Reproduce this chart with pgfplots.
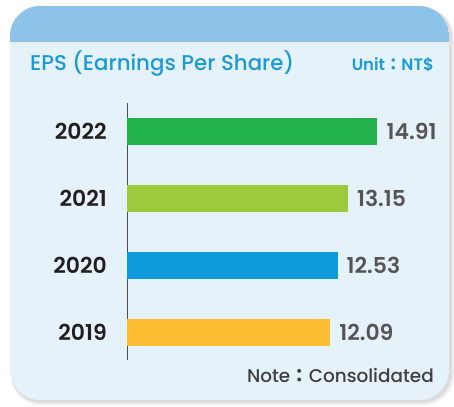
\documentclass[border=0pt]{standalone}
\usepackage{pgfplots}
\pgfplotsset{compat=1.18}
\usepackage{fontspec}
\setmainfont{Poppins}[BoldFont={Poppins SemiBold}]
\newfontfamily\med{Poppins Medium}
\newfontfamily\cjk{Noto Sans CJK TC}
\definecolor{hdr}{HTML}{8DC3E9}
\definecolor{bgc}{HTML}{E5F2FA}
\definecolor{ttl}{HTML}{1B9AD6}
\definecolor{cA}{HTML}{22B24C}
\definecolor{cB}{HTML}{9BCB3C}
\definecolor{cC}{HTML}{0E9BDC}
\definecolor{cD}{HTML}{FDBD33}
\definecolor{yr}{HTML}{231F20}
\definecolor{val}{HTML}{555555}
\begin{document}
\begin{tikzpicture}[x=1bp,y=1bp]
\path (0,0) rectangle (454,406);
% shadow
\fill[black,opacity=0.06,rounded corners=30bp] (11,1) rectangle (454,398);
\fill[black,opacity=0.08,rounded corners=30bp] (11,3) rectangle (452,399);
% card
\begin{scope}
\clip[rounded corners=30bp] (10,6) rectangle (449,400);
\fill[bgc] (10,6) rectangle (449,400);
\fill[hdr] (10,364) rectangle (449,400);
\end{scope}
\node[anchor=base west,inner sep=0pt,text=ttl,font=\med\fontsize{21.4}{24}\selectfont] at (30,335.3) {EPS (Earnings Per Share)};
\node[anchor=base east,inner sep=0pt,text=ttl,font=\bfseries\fontsize{16.5}{18}\selectfont] at (434,335.3) {Unit{\cjk\bfseries ：}NT\$};
\node[anchor=base east,inner sep=0pt,text=val!75!black,font=\med\fontsize{18.5}{20}\selectfont] at (434,24) {Note{\cjk\bfseries ：}Consolidated};
\begin{axis}[
  at={(127bp,46bp)}, anchor=south west,
  scale only axis, width=302.4bp, height=257bp,
  xbar, bar width=27bp,
  every axis plot/.append style={bar shift=0pt, draw=none},
  xmin=0, xmax=18, ymin=-0.41, ymax=3.417,
  axis x line=none, axis y line=left,
  y axis line style={-, draw=yr!80, line width=0.8pt},
  ytick={0,1,2,3}, yticklabels={2019,2020,2021,2022},
  major tick length=0pt,
  yticklabel style={inner sep=0pt, xshift=-20bp, text=yr, font=\bfseries\fontsize{22}{24}\selectfont},
  /pgf/number format/assume math mode=true,
  nodes near coords={\pgfmathprintnumber[fixed,precision=2,fixed zerofill]{\pgfplotspointmeta}},
  every node near coord/.append style={text=val, font=\bfseries\fontsize{22}{24}\selectfont, anchor=west, inner sep=0pt, xshift=9bp},
  clip=false,
]
\addplot[fill=cD] coordinates {(12.09,0)};
\addplot[fill=cC] coordinates {(12.53,1)};
\addplot[fill=cB] coordinates {(13.15,2)};
\addplot[fill=cA] coordinates {(14.91,3)};
\end{axis}
\end{tikzpicture}
\end{document}
